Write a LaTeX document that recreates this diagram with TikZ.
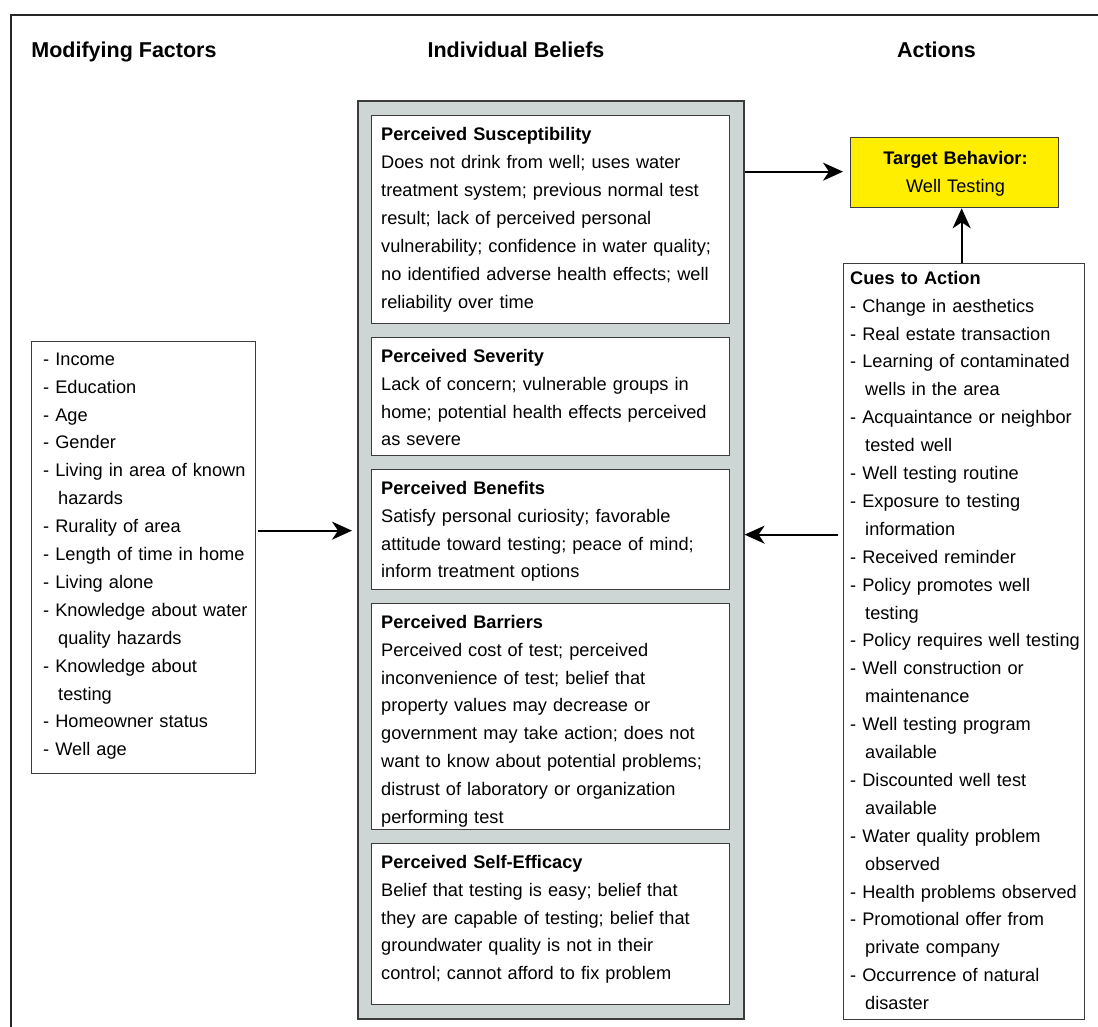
\documentclass[tikz,border=0pt]{standalone}
\usepackage{fontspec}
\setmainfont{Liberation Sans}
\usetikzlibrary{arrows.meta}
\definecolor{beliefgray}{HTML}{CDD6D5}
\definecolor{targetyellow}{HTML}{FFEE00}
\definecolor{edgegray}{HTML}{3C3C3C}
\newcommand{\bodyfont}{\fontsize{18.2}{27.9}\selectfont}
\newcommand{\hdrfont}{\fontsize{21.5}{26}\selectfont\bfseries}
\newcommand{\ind}{\hspace*{15pt}}
\begin{document}
\begin{tikzpicture}[x=1pt,y=-1pt,
  box/.style={draw=edgegray, line width=1.3pt, fill=white, inner sep=0pt, anchor=north west, rectangle},
  txt/.style={anchor=north west, inner sep=0pt, text width=#1, align=left, font=\bodyfont},
  hdr/.style={anchor=base, inner sep=0pt, font=\hdrfont},
  arr/.style={-{Stealth[length=20pt,width=18pt,inset=6pt]}, line width=2pt}]
\useasboundingbox (0,0) rectangle (1098,1026);
\clip (0,0) rectangle (1098,1026);
% outer frame
\draw[line width=1.8pt, draw=black!85] (11,15) rectangle (1140,1060);
% headers
\node[hdr] (h1) at (124,57) {Modifying Factors};
\node[hdr] (h2) at (516,57) {Individual Beliefs};
\node[hdr] (h3) at (936.5,57) {Actions};
% modifying factors
\node[box, minimum width=224pt, minimum height=432pt] (mod) at (31,341) {};
\node[txt=230pt] (modtxt) at (43,345.5) {\strut - Income\\- Education\\- Age\\- Gender\\- Living in area of known\\\ind hazards\\- Rurality of area\\- Length of time in home\\- Living alone\\- Knowledge about water\\\ind quality hazards\\- Knowledge about\\\ind testing\\- Homeowner status\\- Well age};
% individual beliefs
\node[box, fill=beliefgray, line width=1.6pt, minimum width=386pt, minimum height=918pt] (gray) at (357,100) {};
\node[box, minimum width=358pt, minimum height=208pt] (susc) at (371,115) {};
\node[txt=345pt] (susctxt) at (381,121) {\strut\textbf{Perceived Susceptibility}\\Does not drink from well; uses water\\treatment system; previous normal test\\result; lack of perceived personal\\vulnerability; confidence in water quality;\\no identified adverse health effects; well\\reliability over time};
\node[box, minimum width=358pt, minimum height=118pt] (sev) at (371,337) {};
\node[txt=345pt] (sevtxt) at (381,342.5) {\strut\textbf{Perceived Severity}\\Lack of concern; vulnerable groups in\\home; potential health effects perceived\\as severe};
\node[box, minimum width=358pt, minimum height=120pt] (ben) at (371,469) {};
\node[txt=345pt] (bentxt) at (381,474.5) {\strut\textbf{Perceived Benefits}\\Satisfy personal curiosity; favorable\\attitude toward testing; peace of mind;\\inform treatment options};
\node[box, minimum width=358pt, minimum height=226pt] (bar) at (371,603) {};
\node[txt=345pt] (bartxt) at (381,608.5) {\strut\textbf{Perceived Barriers}\\Perceived cost of test; perceived\\inconvenience of test; belief that\\property values may decrease or\\government may take action; does not\\want to know about potential problems;\\distrust of laboratory or organization\\performing test};
\node[box, minimum width=358pt, minimum height=161pt] (eff) at (371,843) {};
\node[txt=345pt] (efftxt) at (381,848.5) {\strut\textbf{Perceived Self-Efficacy}\\Belief that testing is easy; belief that\\they are capable of testing; belief that\\groundwater quality is not in their\\control; cannot afford to fix problem};
% actions
\node[box, fill=targetyellow, minimum width=208pt, minimum height=70pt] (target) at (850,137) {};
\node[anchor=north, inner sep=0pt, text width=200pt, align=center, font=\bodyfont] (targettxt) at (955.5,144.5) {\strut\textbf{Target Behavior:}\\Well Testing};
\node[box, minimum width=241pt, minimum height=756pt] (cues) at (842.5,263) {};
\node[txt=260pt] (cuestxt) at (850,264.5) {\strut\textbf{Cues to Action}\\- Change in aesthetics\\- Real estate transaction\\- Learning of contaminated\\\ind wells in the area\\- Acquaintance or neighbor\\\ind tested well\\- Well testing routine\\- Exposure to testing\\\ind information\\- Received reminder\\- Policy promotes well\\\ind testing\\- Policy requires well testing\\- Well construction or\\\ind maintenance\\- Well testing program\\\ind available\\- Discounted well test\\\ind available\\- Water quality problem\\\ind observed\\- Health problems observed\\- Promotional offer from\\\ind private company\\- Occurrence of natural\\\ind disaster};
% connectors
\draw[arr, shorten >=7pt] ([yshift=1pt]target.west -| gray.east) -- ([yshift=1pt]target.west);
\draw[arr] ([xshift=-2pt]cues.north) -- ([xshift=-2pt]cues.north |- target.south);
\draw[arr, shorten <=5pt] ([yshift=-5pt]cues.west |- ben.west) -- ([yshift=-5pt]gray.east |- ben.east);
\draw[arr, shorten <=2pt, shorten >=5pt] ([yshift=-1pt]mod.east |- ben.west) -- ([yshift=-1pt]gray.west |- ben.west);
\end{tikzpicture}
\end{document}
